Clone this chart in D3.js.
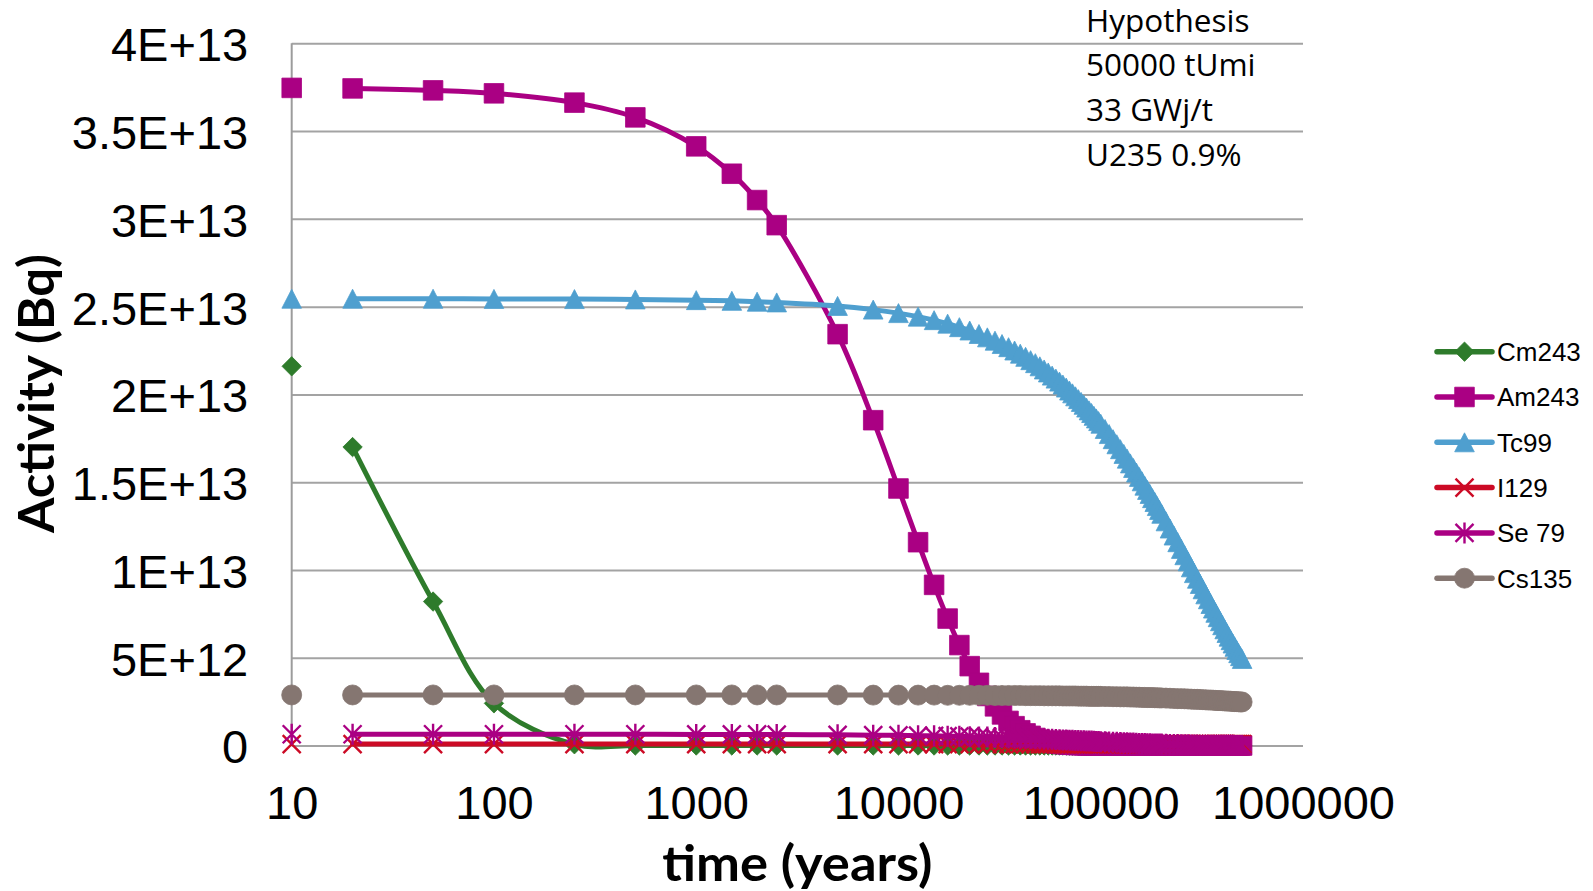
<!DOCTYPE html>
<html>
<head>
<meta charset="utf-8">
<script src="https://cdnjs.cloudflare.com/ajax/libs/d3/7.8.5/d3.min.js"></script>
<style>
    body { margin: 0; background: #ffffff; }
    .axis text { font-family: "Liberation Sans", Arial, sans-serif; font-size: 47px; fill: #000; }
    .axis-title { font-family: Lato, "Open Sans", sans-serif; font-weight: bold; font-size: 49px; fill: #000; }
    .note { font-family: "Open Sans", sans-serif; font-size: 31.5px; fill: #000; }
    .legend text { font-family: "Liberation Sans", Arial, sans-serif; font-size: 26px; fill: #000; }
</style>
</head>
<body>
<div id="activity-chart"></div>
<script>

// time (years)
var years = [10, 20, 50, 100, 250, 500, 1000, 1500, 2000, 2500,
    5000, 7500, 10000, 12500, 15000, 17500, 20000, 22500, 25000, 27500,
    30000, 32500, 35000, 37500, 40000, 42500, 45000, 47500, 50000, 52500,
    55000, 57500, 60000, 62500, 65000, 67500, 70000, 72500, 75000, 77500,
    80000, 82500, 85000, 87500, 90000, 92500, 95000, 97500, 100000,
    105000, 110000, 115000, 120000, 125000, 130000, 135000, 140000, 145000, 150000,
    155000, 160000, 165000, 170000, 175000, 180000, 185000, 190000, 195000, 200000,
    210000, 220000, 230000, 240000, 250000, 260000, 270000, 280000, 290000, 300000,
    310000, 320000, 330000, 340000, 350000, 360000, 370000, 380000, 390000, 400000,
    410000, 420000, 430000, 440000, 450000, 460000, 470000, 480000, 490000, 500000];

// activities, in 1E12 Bq
var cm243 = [21.6, 17.0, 8.2, 2.4, 0.07, 0, 0, 0, 0, 0,
    0, 0, 0, 0, 0, 0, 0, 0, 0, 0,
    0, 0, 0, 0, 0, 0, 0, 0, 0, 0,
    0, 0, 0, 0, 0, 0, 0, 0, 0, 0,
    0, 0, 0, 0, 0, 0, 0, 0, 0,
    0, 0, 0, 0, 0, 0, 0, 0, 0, 0,
    0, 0, 0, 0, 0, 0, 0, 0, 0, 0,
    0, 0, 0, 0, 0, 0, 0, 0, 0, 0,
    0, 0, 0, 0, 0, 0, 0, 0, 0, 0,
    0, 0, 0, 0, 0, 0, 0, 0, 0, 0];

var am243 = [37.46, 37.43, 37.32, 37.15, 36.62, 35.78, 34.13, 32.57, 31.07, 29.64,
    23.43, 18.53, 14.64, 11.58, 9.15, 7.23, 5.72, 4.52, 3.57, 2.82,
    2.23, 1.77, 1.40, 1.10, 0.87, 0.69, 0.55, 0.43, 0.34, 0.27,
    0.21, 0.17, 0.13, 0.11, 0.08, 0.07, 0.05, 0.04, 0.03, 0.03,
    0.02, 0.02, 0.01, 0.01, 0.01, 0.01, 0.01, 0, 0,
    0, 0, 0, 0, 0, 0, 0, 0, 0, 0,
    0, 0, 0, 0, 0, 0, 0, 0, 0, 0,
    0, 0, 0, 0, 0, 0, 0, 0, 0, 0,
    0, 0, 0, 0, 0, 0, 0, 0, 0, 0,
    0, 0, 0, 0, 0, 0, 0, 0, 0, 0];

var tc99 = [25.45, 25.45, 25.45, 25.44, 25.43, 25.41, 25.37, 25.33, 25.28, 25.24,
    25.04, 24.83, 24.63, 24.43, 24.23, 24.03, 23.83, 23.64, 23.44, 23.25,
    23.06, 22.87, 22.69, 22.50, 22.32, 22.14, 21.95, 21.78, 21.60, 21.42,
    21.25, 21.07, 20.90, 20.73, 20.56, 20.39, 20.22, 20.06, 19.89, 19.73,
    19.57, 19.41, 19.25, 19.09, 18.94, 18.78, 18.63, 18.48, 18.33,
    18.03, 17.74, 17.45, 17.16, 16.88, 16.61, 16.34, 16.07, 15.81, 15.55,
    15.30, 15.05, 14.80, 14.56, 14.33, 14.09, 13.87, 13.64, 13.42, 13.20,
    12.77, 12.36, 11.96, 11.58, 11.20, 10.84, 10.49, 10.15, 9.82, 9.50,
    9.20, 8.90, 8.61, 8.33, 8.06, 7.80, 7.56, 7.31, 7.08, 6.85,
    6.62, 6.41, 6.20, 6.00, 5.81, 5.62, 5.44, 5.26, 5.09, 4.93];

var i129 = [0.08, 0.08, 0.08, 0.08, 0.08, 0.08, 0.08, 0.08, 0.08, 0.08,
    0.08, 0.08, 0.08, 0.08, 0.08, 0.08, 0.08, 0.08, 0.08, 0.08,
    0.08, 0.08, 0.08, 0.08, 0.08, 0.08, 0.08, 0.08, 0.08, 0.08,
    0.08, 0.08, 0.08, 0.08, 0.08, 0.08, 0.08, 0.08, 0.08, 0.08,
    0.08, 0.08, 0.08, 0.08, 0.08, 0.08, 0.08, 0.08, 0.08,
    0.08, 0.08, 0.08, 0.08, 0.08, 0.08, 0.08, 0.08, 0.08, 0.08,
    0.08, 0.08, 0.08, 0.08, 0.08, 0.08, 0.08, 0.08, 0.08, 0.08,
    0.08, 0.08, 0.08, 0.08, 0.08, 0.08, 0.08, 0.08, 0.08, 0.08,
    0.08, 0.08, 0.08, 0.08, 0.08, 0.08, 0.08, 0.08, 0.08, 0.08,
    0.08, 0.08, 0.08, 0.08, 0.08, 0.08, 0.08, 0.08, 0.08, 0.08];

var se79 = [0.64, 0.64, 0.64, 0.64, 0.64, 0.64, 0.63, 0.63, 0.63, 0.62,
    0.61, 0.59, 0.58, 0.56, 0.55, 0.53, 0.52, 0.50, 0.49, 0.48,
    0.46, 0.45, 0.44, 0.43, 0.42, 0.41, 0.40, 0.39, 0.38, 0.37,
    0.36, 0.35, 0.34, 0.33, 0.32, 0.31, 0.30, 0.30, 0.29, 0.28,
    0.27, 0.27, 0.26, 0.25, 0.25, 0.24, 0.23, 0.23, 0.22,
    0.21, 0.20, 0.19, 0.18, 0.17, 0.16, 0.15, 0.14, 0.14, 0.13,
    0.12, 0.12, 0.11, 0.10, 0.10, 0.09, 0.09, 0.08, 0.08, 0.08,
    0.07, 0.06, 0.06, 0.05, 0.04, 0.04, 0.04, 0.03, 0.03, 0.03,
    0.02, 0.02, 0.02, 0.02, 0.02, 0.01, 0.01, 0.01, 0.01, 0.01,
    0.01, 0.01, 0.01, 0.01, 0.01, 0, 0, 0, 0, 0];

var cs135 = [2.88, 2.88, 2.88, 2.88, 2.88, 2.88, 2.88, 2.88, 2.88, 2.88,
    2.88, 2.87, 2.87, 2.87, 2.87, 2.86, 2.86, 2.86, 2.86, 2.86,
    2.85, 2.85, 2.85, 2.85, 2.85, 2.84, 2.84, 2.84, 2.84, 2.83,
    2.83, 2.83, 2.83, 2.83, 2.82, 2.82, 2.82, 2.82, 2.82, 2.81,
    2.81, 2.81, 2.81, 2.80, 2.80, 2.80, 2.80, 2.80, 2.80,
    2.79, 2.79, 2.78, 2.78, 2.77, 2.77, 2.77, 2.76, 2.76, 2.75,
    2.75, 2.74, 2.74, 2.73, 2.73, 2.73, 2.72, 2.72, 2.71, 2.71,
    2.70, 2.69, 2.68, 2.67, 2.67, 2.66, 2.65, 2.64, 2.63, 2.63,
    2.62, 2.61, 2.60, 2.59, 2.59, 2.58, 2.57, 2.56, 2.56, 2.55,
    2.54, 2.53, 2.53, 2.52, 2.51, 2.50, 2.50, 2.49, 2.48, 2.48];

var seriesNames = ["Cm243", "Am243", "Tc99", "I129", "Se 79", "Cs135"];
var seriesValues = [cm243, am243, tc99, i129, se79, cs135];

var yTickValues = [0, 5, 10, 15, 20, 25, 30, 35, 40];
var yTickLabels = ["0", "5E+12", "1E+13", "1.5E+13", "2E+13", "2.5E+13", "3E+13", "3.5E+13", "4E+13"];
var xTickValues = [10, 100, 1000, 10000, 100000, 1000000];
var xTickLabels = ["10", "100", "1000", "10000", "100000", "1000000"];

var hypothesisLines = ["Hypothesis", "50000 tUmi", "33 GWj/t", "U235 0.9%"];


ActivityChart = function(_parentElement) {
    this.parentElement = _parentElement;
    this.displayData = [];
    this.initVis();
};

ActivityChart.prototype.initVis = function() {

    var vis = this;

    vis.margin = {top: 43.3, right: 290, bottom: 145.5, left: 291.7};
    vis.width = 1593 - vis.margin.left - vis.margin.right;
    vis.height = 891 - vis.margin.top - vis.margin.bottom;

    vis.root = d3.select("#" + vis.parentElement).append("svg")
        .attr("width", 1593)
        .attr("height", 891);

    vis.svg = vis.root.append("g")
        .attr("transform", "translate(" + vis.margin.left + "," + vis.margin.top + ")");

    //-----scales------
    vis.x = d3.scaleLog()
        .domain([10, 1000000])
        .range([0, vis.width]);

    vis.y = d3.scaleLinear()
        .domain([0, 40])
        .range([vis.height, 0]);

    // marker + colour per series (same order as seriesNames)
    vis.styles = [
        {color: "#2e7b2b", marker: "diamond"},
        {color: "#aa0083", marker: "square"},
        {color: "#4f9fcf", marker: "triangle"},
        {color: "#cc0a25", marker: "x"},
        {color: "#aa0083", marker: "star"},
        {color: "#857671", marker: "circle"}
    ];

    vis.line = d3.line()
        .x(function(d) { return vis.x(d.t); })
        .y(function(d) { return vis.y(d.v); })
        .curve(d3.curveCatmullRom);

    vis.wrangleData();
};

ActivityChart.prototype.wrangleData = function() {

    var vis = this;

    vis.displayData = seriesNames.map(function(name, s) {
        return {
            name: name,
            style: vis.styles[s],
            points: years.map(function(t, i) {
                return {t: t, v: seriesValues[s][i]};
            })
        };
    });

    vis.updateVis();
};

function markerPath(type) {
    if (type == "diamond") return "M0,-9.7L9.7,0L0,9.7L-9.7,0Z";
    if (type == "square") return "M-9.8,-9.8h19.6v19.6h-19.6Z";
    if (type == "triangle") return "M0,-9.5L9.8,9.5L-9.8,9.5Z";
    if (type == "circle") return "M-10,0a10,10 0 1,0 20,0a10,10 0 1,0 -20,0Z";
    if (type == "x") return "M-9,-9L9,9M-9,9L9,-9";
    return "M-9,-9L9,9M-9,9L9,-9M0,-10.5L0,10.5";
}

function styleMarker(sel, style) {
    var open = (style.marker == "x" || style.marker == "star");
    sel.attr("d", markerPath(style.marker))
        .style("fill", open ? "none" : style.color)
        .style("stroke", style.color)
        .style("stroke-width", open ? 2.4 : 0.8);
}

ActivityChart.prototype.updateVis = function() {

    var vis = this;

    //-----gridlines------
    var grid = vis.svg.append("g")
        .attr("class", "grid")
        .call(d3.axisLeft(vis.y).tickValues(yTickValues).tickSize(-vis.width).tickFormat(""));
    grid.select(".domain").remove();
    grid.selectAll("line")
        .style("stroke", "#a3a3a3")
        .style("stroke-width", 2);

    // vertical axis line
    vis.svg.append("line")
        .attr("x1", 0).attr("x2", 0)
        .attr("y1", vis.y(40)).attr("y2", vis.y(0))
        .style("stroke", "#9c9c9c")
        .style("stroke-width", 2);

    //-----axes (labels only)------
    var yAxis = vis.svg.append("g")
        .attr("class", "axis y-axis")
        .call(d3.axisLeft(vis.y).tickValues(yTickValues).tickSize(0).tickPadding(43.5)
            .tickFormat(function(d, i) { return yTickLabels[i]; }));
    yAxis.select(".domain").remove();
    yAxis.selectAll("text").attr("dy", "0.37em");

    var xAxis = vis.svg.append("g")
        .attr("class", "axis x-axis")
        .attr("transform", "translate(0," + vis.height + ")")
        .call(d3.axisBottom(vis.x).tickValues(xTickValues).tickSize(0).tickPadding(40)
            .tickFormat(function(d, i) { return xTickLabels[i]; }));
    xAxis.select(".domain").remove();

    //-----series------
    var series = vis.svg.selectAll(".series")
        .data(vis.displayData)
        .enter()
        .append("g")
        .attr("class", "series");

    // the line skips the first (t=10) point, as in the original
    series.append("path")
        .attr("d", function(d) { return vis.line(d.points.slice(1)); })
        .style("fill", "none")
        .style("stroke", function(d) { return d.style.color; })
        .style("stroke-width", 5)
        .style("stroke-linejoin", "round")
        .style("stroke-linecap", "round");

    series.each(function(s) {
        d3.select(this).selectAll(".marker")
            .data(s.points)
            .enter()
            .append("path")
            .attr("class", "marker")
            .attr("transform", function(d) { return "translate(" + vis.x(d.t) + "," + vis.y(d.v) + ")"; })
            .call(styleMarker, s.style);
    });

    //-----axis titles------
    vis.root.append("text")
        .attr("class", "axis-title")
        .attr("text-anchor", "middle")
        .attr("x", vis.margin.left + vis.width / 2)
        .attr("y", 881)
        .attr("textLength", 270)
        .attr("lengthAdjust", "spacingAndGlyphs")
        .text("time (years)");

    vis.root.append("text")
        .attr("class", "axis-title")
        .attr("text-anchor", "middle")
        .attr("transform", "translate(54,393.5) rotate(-90)")
        .attr("textLength", 279)
        .attr("lengthAdjust", "spacingAndGlyphs")
        .text("Activity (Bq)");

    //-----hypothesis note------
    vis.root.selectAll(".note")
        .data(hypothesisLines)
        .enter()
        .append("text")
        .attr("class", "note")
        .attr("x", 1086)
        .attr("y", function(d, i) { return 31.7 + i * 44.6; })
        .text(function(d) { return d; });

    //-----legend------
    var legend = vis.root.append("g")
        .attr("class", "legend")
        .attr("transform", "translate(1437,351.7)");

    var rows = legend.selectAll(".row")
        .data(vis.displayData)
        .enter()
        .append("g")
        .attr("class", "row")
        .attr("transform", function(d, i) { return "translate(0," + (i * 45.3) + ")"; });

    rows.append("line")
        .attr("x1", 0).attr("x2", 55)
        .style("stroke", function(d) { return d.style.color; })
        .style("stroke-width", 5.5)
        .style("stroke-linecap", "round");

    rows.append("path")
        .attr("transform", "translate(27.5,0)")
        .each(function(d) { d3.select(this).call(styleMarker, d.style); });

    rows.append("text")
        .attr("x", 60)
        .attr("y", 9.3)
        .text(function(d) { return d.name; });
};

var activityChart = new ActivityChart("activity-chart");
</script>
</body>
</html>
